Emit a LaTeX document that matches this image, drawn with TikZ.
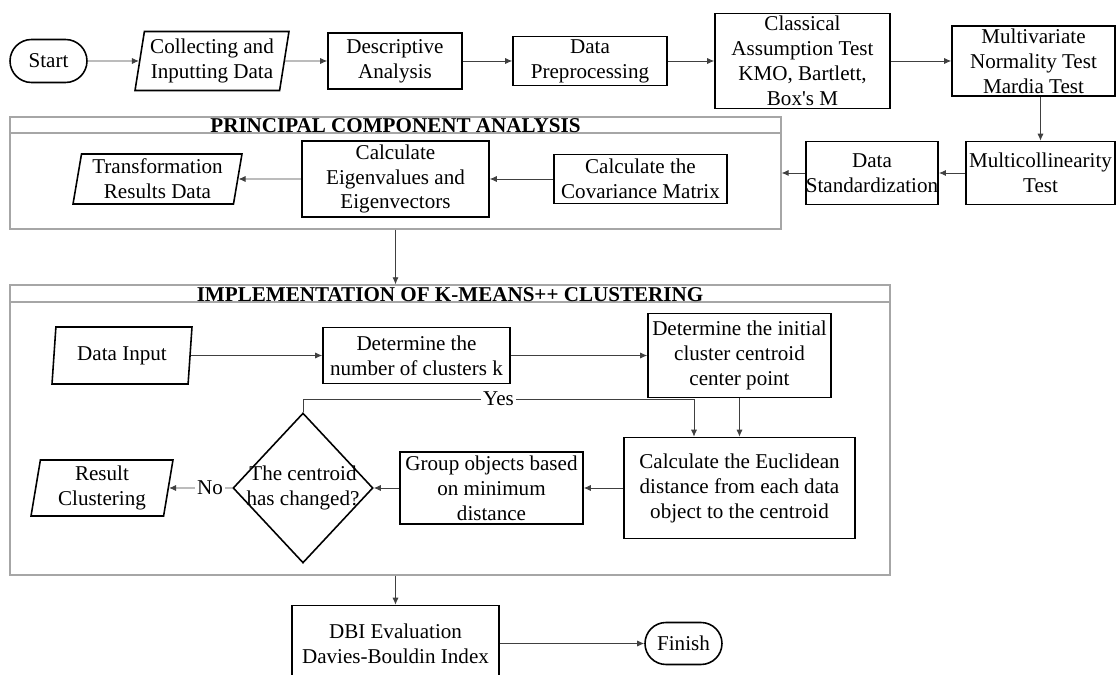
\documentclass[tikz,border=0pt]{standalone}
\usepackage{fontspec}
\setmainfont{Liberation Serif}
\usetikzlibrary{shapes.geometric,shapes.misc,arrows.meta}

\tikzset{
  box/.style={draw, line width=0.9pt, rectangle, align=center, inner sep=0pt},
  io/.style={draw, line width=0.9pt, trapezium, trapezium left angle=78,
    trapezium right angle=102, trapezium stretches body, align=center, inner sep=0pt},
  term/.style={draw, line width=0.9pt, rounded rectangle, inner sep=0pt},
  decision/.style={draw, line width=0.9pt, diamond, inner sep=0pt},
  panel/.style={draw=gray!70, line width=0.8pt, rectangle, inner sep=0pt},
  paneltitle/.style={font=\fontsize{12}{14.2}\selectfont\bfseries, inner sep=0pt},
  arr/.style={-{Latex[length=4pt,width=3.5pt]}, line width=0.5pt, black!75},
  lbl/.style={fill=white, text=black, inner sep=1pt},
}

\begin{document}
\begin{tikzpicture}[x=0.02cm, y=-0.02cm, font=\fontsize{12}{14.2}\selectfont]
  \useasboundingbox (0,0) rectangle (1117,675);

  % top row
  \node[term, minimum width=1.54cm, minimum height=0.86cm] (start) at (48.5,61) {Start};
  \node[io, minimum width=3.08cm, minimum height=1.18cm] (col) at (212,61) {Collecting and\\Inputting Data};
  \node[box, minimum width=2.68cm, minimum height=1.12cm] (desc) at (395,61) {Descriptive\\Analysis};
  \node[box, minimum width=3.08cm, minimum height=0.98cm] (pre) at (590,61) {Data\\Preprocessing};
  \node[box, minimum width=3.5cm, minimum height=1.9cm] (cls) at (802.5,61) {Classical\\Assumption Test\\KMO, Bartlett,\\Box\textquotesingle s M};
  \node[box, minimum width=3.26cm, minimum height=1.4cm] (mnt) at (1033.5,61) {Multivariate\\Normality Test\\Mardia Test};
  \node[box, minimum width=2.98cm, minimum height=1.26cm] (mc) at (1040.5,173) {Multicollinearity\\Test};
  \node[box, minimum width=2.64cm, minimum height=1.26cm] (std) at (872,173) {Data\\Standardization};

  % PCA panel
  \node[panel, minimum width=15.42cm, minimum height=2.24cm] (pca) at (395.5,173) {};
  \draw[draw=gray!70, line width=0.8pt] (pca.north west |- 0,133) -- (pca.north east |- 0,133);
  \node[paneltitle, anchor=base] (pcatitle) at (395.5,132.5) {PRINCIPAL COMPONENT ANALYSIS};
  \node[io, minimum width=3.38cm, minimum height=1.0cm] (trf) at (157.5,179) {Transformation\\Results Data};
  \node[box, minimum width=3.74cm, minimum height=1.52cm] (eig) at (395.5,179) {Calculate\\Eigenvalues and\\Eigenvectors};
  \node[box, minimum width=3.46cm, minimum height=0.98cm] (cov) at (640.5,179) {Calculate the\\Covariance Matrix};

  % k-means panel
  \node[panel, minimum width=17.6cm, minimum height=5.8cm] (km) at (450,430) {};
  \draw[draw=gray!70, line width=0.8pt] (km.north west |- 0,302) -- (km.north east |- 0,302);
  \node[paneltitle, anchor=base] (kmtitle) at (450,301.5) {IMPLEMENTATION OF K-MEANS++ CLUSTERING};
  \node[io, minimum width=2.8cm, minimum height=1.14cm] (din) at (122,355.5) {Data Input};
  \node[box, minimum width=3.74cm, minimum height=1.12cm] (detk) at (416.5,355.5) {Determine the\\number of clusters k};
  \node[box, minimum width=3.66cm, minimum height=1.68cm] (init) at (739.5,355.5) {Determine the initial\\cluster centroid\\center point};
  \node[box, minimum width=4.62cm, minimum height=2.02cm] (euc) at (739.5,488) {Calculate the Euclidean\\distance from each data\\object to the centroid};
  \node[box, minimum width=3.66cm, minimum height=1.44cm] (grp) at (491.5,488) {Group objects based\\on minimum\\distance};
  \node[decision, minimum width=2.8cm, minimum height=3.0cm] (chg) at (303,488) {};
  \node[align=center, inner sep=0pt] (chgtxt) at (chg) {The centroid\\has changed?};
  \node[io, minimum width=2.84cm, minimum height=1.12cm] (res) at (102,488) {Result\\Clustering};
  \coordinate (yes) at (694,399);

  % bottom
  \node[box, minimum width=4.14cm, minimum height=1.52cm] (dbi) at (395.5,643.5) {DBI Evaluation\\Davies-Bouldin Index};
  \node[term, minimum width=1.54cm, minimum height=0.84cm] (fin) at (683.5,643.5) {Finish};

  % connectors
  \draw[arr] (start.east) -- (col.west);
  \draw[arr] (col.east) -- (desc.west);
  \draw[arr] (desc.east) -- (pre.west);
  \draw[arr] (pre.east) -- (cls.west);
  \draw[arr] (cls.east) -- (mnt.west);
  \draw[arr] (mc.north |- mnt.south) -- (mc.north);
  \draw[arr] (mc.west) -- (std.east);
  \draw[arr] (std.west) -- (pca.east);
  \draw[arr] (cov.west) -- (eig.east);
  \draw[arr] (eig.west) -- (trf.east);
  \draw[arr] (eig.south |- pca.south) -- (eig.south |- km.north);
  \draw[arr] (din.east) -- (detk.west);
  \draw[arr] (detk.east) -- (init.west);
  \draw[arr] (chg.north) -- (chg.north |- yes) -- node[lbl] (yeslbl) {Yes} (yes) -- (yes |- euc.north);
  \draw[arr] (init.south) -- (euc.north);
  \draw[arr] (euc.west) -- (grp.east);
  \draw[arr] (grp.west) -- (chg.east);
  \draw[arr] (chg.west) -- node[lbl, pos=0.35] (nolbl) {No} (res.east);
  \draw[arr] (dbi.north |- km.south) -- (dbi.north);
  \draw[arr] (dbi.east) -- (fin.west);
\end{tikzpicture}
\end{document}
